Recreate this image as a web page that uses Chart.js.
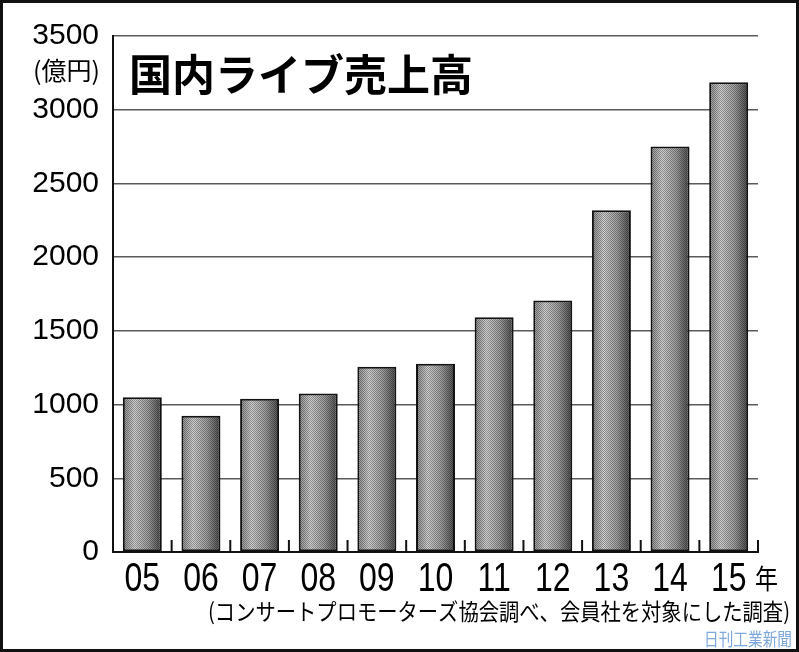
<!DOCTYPE html>
<html lang="ja">
<head>
<meta charset="utf-8">
<script src="https://cdn.jsdelivr.net/npm/chart.js@4"></script>
<style>
  html, body { margin: 0; padding: 0; background: #fff; }
  #chart { display: block; }
</style>
</head>
<body>
<canvas id="chart" width="799" height="652"></canvas>
<script>
// ===== Data =====
const years = ['05', '06', '07', '08', '09', '10', '11', '12', '13', '14', '15'];
const sales = [1050, 925, 1040, 1075, 1256, 1277, 1593, 1706, 2318, 2750, 3186];
const yTicks = [0, 500, 1000, 1500, 2000, 2500, 3000, 3500];

const titleText = '国内ライブ売上高';
const unitText = '(億円)';
const yearSuffix = '年';
const sourceText = '(コンサートプロモーターズ協会調べ、会員社を対象にした調査)';
const creditText = '日刊工業新聞';

const JP = '"Noto Sans CJK JP", "Noto Sans", sans-serif';
const NUM = '"Liberation Sans", Arial, sans-serif';

// ===== Bar shading =====
function barGradient(context) {
  const chart = context.chart;
  const x = chart.scales.x;
  if (!chart.chartArea || !x) return '#999';
  const cx = x.getPixelForValue(context.dataIndex);
  const w = (x.width / years.length) * 0.665;
  const g = chart.ctx.createLinearGradient(cx - w / 2, 0, cx + w / 2, 0);
  g.addColorStop(0, '#8a8a8a');
  g.addColorStop(0.3, '#d2d2d2');
  g.addColorStop(0.65, '#a0a0a0');
  g.addColorStop(1, '#4a4a4a');
  return g;
}

let dotPattern = null;
function getDotPattern(ctx) {
  if (dotPattern) return dotPattern;
  const c = document.createElement('canvas');
  c.width = 2; c.height = 2;
  const p = c.getContext('2d');
  p.fillStyle = 'rgba(0,0,0,0.32)';
  p.fillRect(0, 0, 1, 1);
  p.fillRect(1, 1, 1, 1);
  dotPattern = ctx.createPattern(c, 'repeat');
  return dotPattern;
}

// draw text squeezed horizontally (the original uses a condensed face)
function squeezed(ctx, text, x, y, sx, align) {
  const w = ctx.measureText(text).width * sx;
  let left = x;
  if (align === 'center') left = x - w / 2;
  if (align === 'right') left = x - w;
  ctx.save();
  ctx.textAlign = 'left';
  ctx.translate(left, y);
  ctx.scale(sx, 1);
  ctx.fillText(text, 0, 0);
  ctx.restore();
  return w;
}

// ===== Extras drawn around the plot =====
const decorations = {
  id: 'decorations',
  afterDatasetsDraw(chart) {
    const ctx = chart.ctx;
    const meta = chart.getDatasetMeta(0);
    // halftone dots on bars
    meta.data.forEach(bar => {
      const p = bar.getProps(['x', 'y', 'base', 'width'], true);
      ctx.save();
      ctx.beginPath();
      ctx.rect(p.x - p.width / 2 + 1, p.y + 1, p.width - 2, p.base - p.y - 2);
      ctx.clip();
      ctx.fillStyle = getDotPattern(ctx);
      ctx.fillRect(p.x - p.width / 2, p.y, p.width, p.base - p.y);
      ctx.restore();
    });

    // small upward ticks between categories
    const x = chart.scales.x;
    const area = chart.chartArea;
    ctx.save();
    ctx.strokeStyle = '#111';
    ctx.lineWidth = 2;
    for (let i = 1; i <= years.length; i++) {
      const px = i < years.length
        ? (x.getPixelForValue(i - 1) + x.getPixelForValue(i)) / 2
        : x.right;
      ctx.beginPath();
      ctx.moveTo(px, area.bottom);
      ctx.lineTo(px, area.bottom - 12);
      ctx.stroke();
    }
    ctx.restore();
  },
  afterDraw(chart) {
    const ctx = chart.ctx;
    const area = chart.chartArea;
    const x = chart.scales.x;
    const y = chart.scales.y;
    ctx.save();
    ctx.fillStyle = '#000';
    ctx.textBaseline = 'middle';

    // category labels
    ctx.font = '40px ' + NUM;
    years.forEach((lab, i) => {
      squeezed(ctx, lab, x.getPixelForValue(i), 580, 0.8, 'center');
    });

    // title inside the top band
    ctx.font = 'bold 43px ' + JP;
    ctx.textAlign = 'left';
    ctx.fillText(titleText, area.left + 16, (y.getPixelForValue(3500) + y.getPixelForValue(3000)) / 2 + 2);

    // unit under the top tick label
    ctx.font = '25px ' + JP;
    ctx.textAlign = 'right';
    ctx.fillText(unitText, area.left - 13, y.getPixelForValue(3250) - 2);

    // year suffix after the last label
    ctx.font = '27px ' + JP;
    squeezed(ctx, yearSuffix, area.right - 3, 579, 0.85, 'left');

    // source note, slightly condensed to fit
    ctx.font = '23px ' + JP;
    const sw = ctx.measureText(sourceText).width;
    squeezed(ctx, sourceText, 208, 611, Math.min(1, 582 / sw), 'left');

    // credit
    ctx.font = '18px ' + JP;
    ctx.fillStyle = '#7ea8da';
    const cw = ctx.measureText(creditText).width;
    squeezed(ctx, creditText, 792, 639, Math.min(1, 88 / cw), 'right');

    // outer frame
    ctx.strokeStyle = '#111';
    ctx.lineWidth = 3;
    ctx.strokeRect(1.5, 1.5, chart.width - 3, chart.height - 3);
    ctx.restore();
  }
};

// ===== Chart =====
const chart = new Chart(document.getElementById('chart'), {
  type: 'bar',
  data: {
    labels: years,
    datasets: [{
      data: sales,
      backgroundColor: barGradient,
      borderColor: '#141414',
      borderWidth: 2,
      borderSkipped: false,
      categoryPercentage: 1,
      barPercentage: 0.665
    }]
  },
  options: {
    responsive: false,
    animation: false,
    events: [],
    layout: { padding: { left: 0, right: 41, top: 36, bottom: 0 } },
    plugins: {
      legend: { display: false },
      title: { display: false },
      tooltip: { enabled: false }
    },
    scales: {
      x: {
        afterFit: s => { s.height = 100; },
        grid: { display: false, drawTicks: false },
        border: { display: true, color: '#111', width: 2 },
        ticks: { display: false }
      },
      y: {
        min: 0,
        max: 3500,
        afterFit: s => { s.width = 113; },
        afterBuildTicks: s => { s.ticks = yTicks.map(v => ({ value: v })); },
        grid: { color: '#5a5a5a', lineWidth: 1.5, drawTicks: false },
        border: { display: true, color: '#111', width: 2 },
        ticks: {
          color: '#000',
          padding: 14,
          font: { family: NUM, size: 30 },
          callback: v => String(v)
        }
      }
    }
  },
  plugins: [decorations]
});
</script>
</body>
</html>
